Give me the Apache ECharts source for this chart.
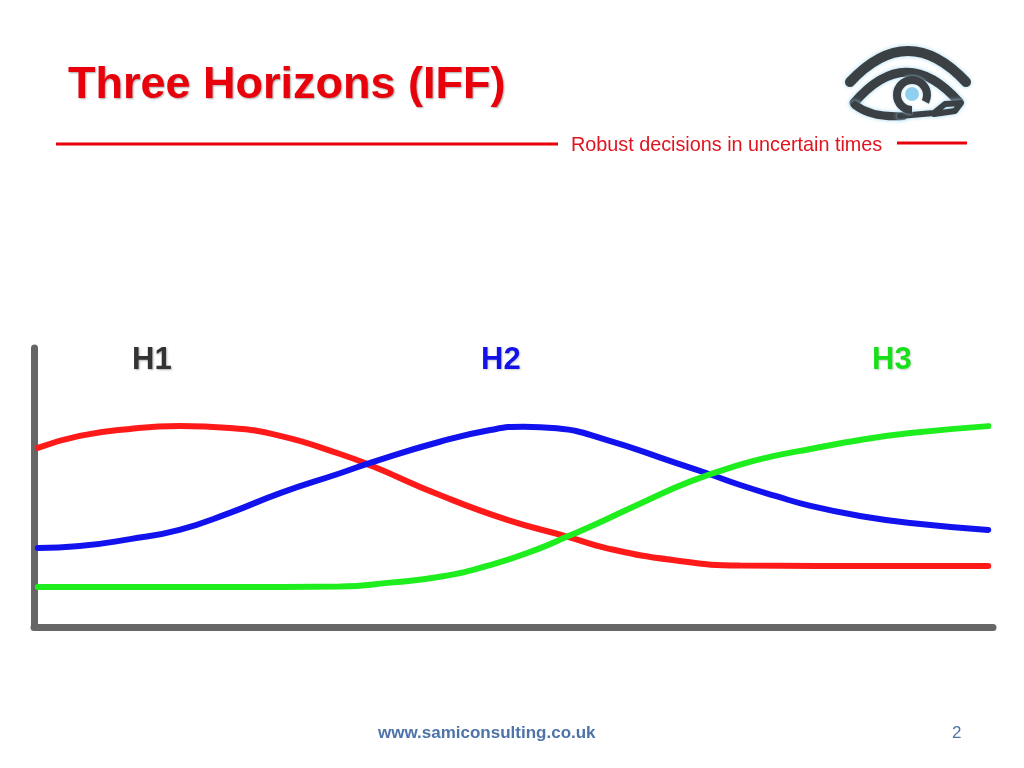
<!DOCTYPE html>
<html><head><meta charset="utf-8">
<script src="https://cdn.jsdelivr.net/npm/echarts@6/dist/echarts.min.js"></script>
<style>html,body{margin:0;padding:0;background:#fff}#c{width:1024px;height:768px}</style>
</head><body><div id="c"></div>
<script>
const titleText = 'Three Horizons (IFF)';
const subtitleText = 'Robust decisions in uncertain times';
const footerText = 'www.samiconsulting.co.uk';
const pageNumber = '2';
const horizonLabels = ['H1', 'H2', 'H3'];

const redPoints = [[0,64.2],[4.4,68.5],[9.7,71.0],[14.9,72.0],[20.2,71.3],[25.5,68.5],[31.8,62.0],[35.3,57.5],[42.3,47.3],[49.4,38.4],[55.7,32.4],[59.9,28.2],[66.8,24.0],[73.9,22.0],[82,21.9],[90,21.9],[100,21.9]];
const bluePoints = [[0,28.3],[4.4,29.0],[9.7,31.5],[14.9,34.8],[20.2,40.9],[25.5,48.0],[31.8,55.1],[35.3,59.2],[42.3,66.4],[47.6,70.6],[51.1,71.8],[54.6,71.2],[59.9,67.0],[66.8,59.2],[70.4,55.1],[73.9,50.9],[77.6,47.0],[81.3,43.4],[86.5,39.8],[91.8,37.3],[100,34.8]];
const greenPoints = [[0,14.3],[10,14.3],[20,14.3],[31.8,14.5],[37.1,15.9],[42.3,18.0],[47.6,22.2],[52.8,28.2],[55.7,32.4],[58.1,35.9],[63.4,44.3],[68.6,52.1],[73.9,58.2],[77.6,61.4],[81.3,63.8],[86.5,67.0],[91.8,69.5],[100,72.0]];

const chart = echarts.init(document.getElementById('c'));
const logoStroke = (w) => ({stroke:'#3b4045', fill:'none', lineWidth:w, lineCap:'round', lineJoin:'round', shadowBlur:4, shadowColor:'#a5d8ee'});
const lineSeries = (pts, color) => ({
  type:'line', data:pts, smooth:0.5, symbol:'none',
  lineStyle:{color:color, width:6, cap:'round'}, z:3
});
chart.setOption({
  animation:false,
  grid:{left:34, right:31, top:348, bottom:141},
  xAxis:{type:'value', min:-0.4, max:100.5, axisLine:{show:true, onZero:false, lineStyle:{color:'#666', width:7}}, axisTick:{show:false}, axisLabel:{show:false}, splitLine:{show:false}},
  yAxis:{type:'value', min:0, max:100, axisLine:{show:true, onZero:false, lineStyle:{color:'#666', width:7}}, axisTick:{show:false}, axisLabel:{show:false}, splitLine:{show:false}},
  series:[lineSeries(redPoints,'#ff1a1a'), lineSeries(bluePoints,'#1212ee'), lineSeries(greenPoints,'#1eee1e')],
  graphic:[
    {type:'text', x:68, y:86, style:{text:titleText, font:'bold 45px "Liberation Sans", Arial, sans-serif', fill:'#e8000b', verticalAlign:'middle', textShadowColor:'rgba(0,0,0,0.35)', textShadowBlur:2, textShadowOffsetX:1, textShadowOffsetY:1}},
    {type:'line', shape:{x1:56, y1:144, x2:558, y2:144}, style:{stroke:'#e8000b', lineWidth:3}},
    {type:'line', shape:{x1:897, y1:143, x2:967, y2:143}, style:{stroke:'#e8000b', lineWidth:3}},
    {type:'text', x:571, y:146, style:{text:subtitleText, font:'19.8px "Liberation Sans", Arial, sans-serif', fill:'#e0141e', verticalAlign:'middle'}},
    {type:'text', x:378, y:733, style:{text:footerText, font:'bold 17px "Liberation Sans", Arial, sans-serif', fill:'#4d73a8', verticalAlign:'middle'}},
    {type:'text', x:952, y:733, style:{text:pageNumber, font:'17px "Liberation Sans", Arial, sans-serif', fill:'#4d73a8', verticalAlign:'middle'}},
    {type:'text', x:132, y:360, style:{text:horizonLabels[0], font:'bold 31px "Liberation Sans", Arial, sans-serif', fill:'#333', verticalAlign:'middle', textShadowColor:'rgba(0,0,0,0.3)', textShadowBlur:2, textShadowOffsetX:1, textShadowOffsetY:1}},
    {type:'text', x:481, y:360, style:{text:horizonLabels[1], font:'bold 31px "Liberation Sans", Arial, sans-serif', fill:'#1212e8', verticalAlign:'middle', textShadowColor:'rgba(0,0,0,0.2)', textShadowBlur:2, textShadowOffsetX:1, textShadowOffsetY:1}},
    {type:'text', x:872, y:360, style:{text:horizonLabels[2], font:'bold 31px "Liberation Sans", Arial, sans-serif', fill:'#18e018', verticalAlign:'middle', textShadowColor:'rgba(0,0,0,0.2)', textShadowBlur:2, textShadowOffsetX:1, textShadowOffsetY:1}},
    {type:'bezierCurve', shape:{x1:850, y1:82, x2:966, y2:82, cpx1:908, cpy1:20}, style:logoStroke(10)},
    {type:'bezierCurve', shape:{x1:854, y1:103, x2:959, y2:102, cpx1:906, cpy1:42}, style:logoStroke(9)},
    {type:'bezierCurve', shape:{x1:855, y1:105, x2:903, y2:116, cpx1:872, cpy1:118}, style:logoStroke(8)},
    {type:'polyline', shape:{points:[[900,116],[934,113],[945,104],[961,103],[955,111],[934,114]]}, style:logoStroke(6)},
    {type:'arc', shape:{cx:912, cy:95, r:15, startAngle:Math.PI*0.5, endAngle:Math.PI*2.15}, style:{stroke:'#3b4045', fill:'none', lineWidth:8, shadowBlur:3, shadowColor:'#a5d8ee'}},
    {type:'circle', shape:{cx:912, cy:94, r:7}, style:{fill:'#8fd0f0'}}
  ]
});
</script></body></html>
